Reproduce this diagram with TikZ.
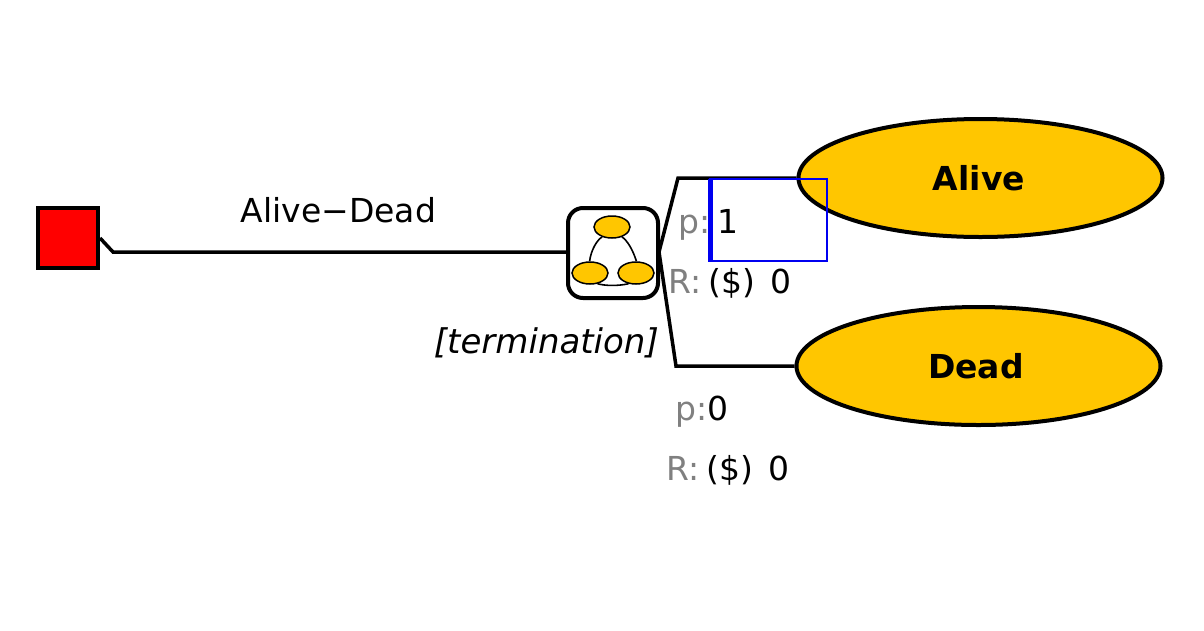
\documentclass[tikz,border=0pt]{standalone}
\usepackage{fontspec}
\setmainfont{DejaVu Sans}
\usetikzlibrary{shapes.geometric}
\definecolor{gold}{RGB}{255,198,0}
\definecolor{greylabel}{RGB}{128,128,128}
\definecolor{markblue}{RGB}{0,0,240}
\tikzset{
  x=1pt,y=-1pt,
  conn/.style={draw=black,line width=3.5pt,line join=miter},
  state/.style={ellipse,draw=black,line width=4pt,fill=gold,inner sep=0pt,minimum width=364pt,minimum height=118pt},
  statetext/.style={inner sep=0pt,font=\fontsize{33}{36}\selectfont\bfseries},
  mini/.style={ellipse,draw=black,line width=1.5pt,fill=gold,inner sep=0pt,minimum width=36pt,minimum height=22pt},
  lab/.style={inner sep=0pt,font=\fontsize{33}{36}\selectfont},
  glab/.style={lab,text=greylabel},
  arcline/.style={line width=1.6pt},
}
\begin{document}
\begin{tikzpicture}
\useasboundingbox (0,0) rectangle (1204,630);
% chance node
\node[draw=black,line width=4pt,fill=red,minimum width=60pt,minimum height=60pt,inner sep=0pt] (root) at (68,238) {};
\node[draw=black,line width=4pt,rounded corners=15pt,fill=white,minimum width=90pt,minimum height=90pt,inner sep=0pt] (sub) at (613,253) {};
\coordinate (kink) at (113,252);
\draw[conn] (root.east) -- (kink) -- (sub.west |- kink);
% terminal states
\node[state] (alive) at (980.5,178) {};
\node[state] (dead) at (978.5,366) {};
\node[statetext] (alivet) at (979,178) {Alive};
\node[statetext] (deadt) at (976,366.5) {Dead};
\coordinate (up) at (678,178);
\coordinate (lo) at (676,366);
\coordinate (hub) at (659,252);
\draw[conn] (hub) -- (up) -- (alive.west |- up);
\draw[conn] (hub) -- (lo) -- (dead.west);
% mini network
\node[mini] (m1) at (612,227) {};
\node[mini] (m2) at (590,273) {};
\node[mini] (m3) at (636,273) {};
\draw[arcline] (m1.225) .. controls (597,240) and (591,250) .. (m2.92);
\draw[arcline] (m1.315) .. controls (627,240) and (633,250) .. (m3.88);
\draw[arcline] (m2.305) .. controls (606,286) and (618,286) .. (m3.235);
% labels
\node[lab,anchor=base] (name) at (338.5,222.5) {Alive−Dead};
\node[lab,anchor=base east] (term) at (659,353) {\fontsize{34}{36}\selectfont\itshape [termination]};
\node[glab,anchor=base east] (p1) at (711,233) {p:};
\node[lab,anchor=base west] (v1) at (717,233) {1};
\node[glab,anchor=base east] (r1) at (702,293) {R:};
\node[lab,anchor=base west] (c1) at (708,293) {(\$)\hspace{16pt}0};
\node[glab,anchor=base east] (p2) at (707.5,420.5) {p:};
\node[lab,anchor=base west] (v2) at (707,420.5) {0};
\node[glab,anchor=base east] (r2) at (700,480.5) {R:};
\node[lab,anchor=base west] (c2) at (706,480.5) {(\$)\hspace{16pt}0};
% editor frame
\draw[markblue,line width=1.5pt] (710,179) rectangle (827,261);
\draw[markblue,line width=5pt] (710.5,178.5) -- (710.5,261.5);
\end{tikzpicture}
\end{document}
